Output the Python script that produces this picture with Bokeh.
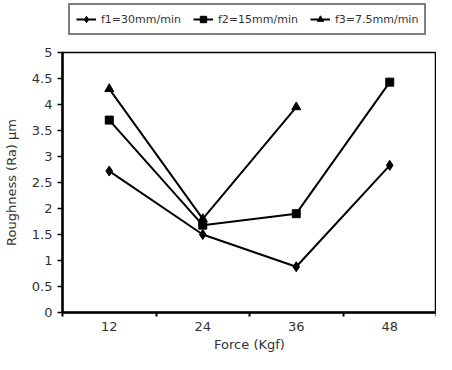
from bokeh.plotting import figure
from bokeh.layouts import column
from bokeh.models import Range1d, FixedTicker, Legend, LegendItem
from bokeh.embed import file_html
from bokeh.resources import INLINE

categories = ["12", "24", "36", "48"]
f1 = [2.72, 1.50, 0.88, 2.83]
f2 = [3.70, 1.68, 1.90, 4.43]
f3 = [4.30, 1.80, 3.95]
names = ["f1=30mm/min", "f2=15mm/min", "f3=7.5mm/min"]
y_ticks = [0, 0.5, 1, 1.5, 2, 2.5, 3, 3.5, 4, 4.5, 5]

FONT = "DejaVu Sans"
TXT = "#333333"
W = 436
LEFT = 60

xpos = [i + 0.5 for i in range(len(categories))]
styles = [dict(marker="diamond", size=10), dict(marker="square", size=8), dict(marker="triangle", size=9)]
series = [f1, f2, f3]

# ---- main chart ----
p = figure(width=W, height=310, output_backend="svg", toolbar_location=None,
           x_range=Range1d(0, len(categories)), y_range=Range1d(0, 5),
           min_border_left=LEFT, min_border_right=0, min_border_bottom=30, min_border_top=8)
p.xgrid.visible = False
p.ygrid.visible = False
p.outline_line_color = "black"
p.outline_line_width = 1.5

for vals, st in zip(series, styles):
    xs = xpos[:len(vals)]
    p.line(xs, vals, line_color="black", line_width=2)
    p.scatter(xs, vals, color="black", **st)

xa = p.xaxis[0]
xa.ticker = FixedTicker(ticks=xpos, minor_ticks=list(range(len(categories) + 1)))
xa.major_label_overrides = {x: c for x, c in zip(xpos, categories)}
xa.major_tick_out = 0
xa.major_tick_in = 0
xa.minor_tick_out = 4
xa.minor_tick_in = 0
xa.minor_tick_line_width = 2
xa.axis_line_width = 2.5
xa.axis_label = "Force (Kgf)"

ya = p.yaxis[0]
ya.ticker = FixedTicker(ticks=y_ticks)
ya.major_label_overrides = {t: ("%g" % t) for t in y_ticks}
ya.major_tick_out = 5
ya.major_tick_in = 0
ya.major_tick_line_width = 1.5
ya.minor_tick_out = 0
ya.minor_tick_in = 0
ya.axis_line_width = 2.5
ya.axis_label = "Roughness (Ra) µm"

for ax in (xa, ya):
    ax.major_label_text_font = FONT
    ax.major_label_text_font_size = "13px"
    ax.major_label_text_color = TXT
    ax.axis_label_text_font = FONT
    ax.axis_label_text_font_size = "13px"
    ax.axis_label_text_font_style = "normal"
    ax.axis_label_text_color = TXT
    ax.axis_line_color = "black"
    ax.major_tick_line_color = "black"
    ax.minor_tick_line_color = "black"
xa.major_label_standoff = 5
xa.axis_label_standoff = 3
ya.major_label_standoff = 5
ya.axis_label_standoff = 10

# ---- legend strip (same series, hidden renderers, only their legend glyphs show) ----
pl = figure(width=W, height=44, output_backend="svg", toolbar_location=None,
            x_axis_type=None, y_axis_type=None,
            x_range=Range1d(0, len(categories)), y_range=Range1d(0, 5),
            min_border_left=0, min_border_right=0, min_border_top=0, min_border_bottom=0)
pl.outline_line_color = None
items = []
for name, vals, st in zip(names, series, styles):
    xs = xpos[:len(vals)]
    rl = pl.line(xs, vals, line_color="black", line_width=2, visible=False)
    rm = pl.scatter(xs, vals, color="black", visible=False, **st)
    items.append(LegendItem(label=name, renderers=[rl, rm]))
legend = Legend(items=items, orientation="horizontal", location=(6, 9))
legend.border_line_color = "black"
legend.border_line_width = 2
legend.label_text_font = FONT
legend.label_text_font_size = "11px"
legend.label_text_color = TXT
legend.glyph_width = 20
legend.glyph_height = 16
legend.label_height = 16
legend.label_standoff = 5
legend.spacing = 12
legend.padding = 6
legend.margin = 0
pl.add_layout(legend, "center")

layout = column(pl, p, spacing=0)
open("out.html", "w").write(file_html(layout, INLINE))
